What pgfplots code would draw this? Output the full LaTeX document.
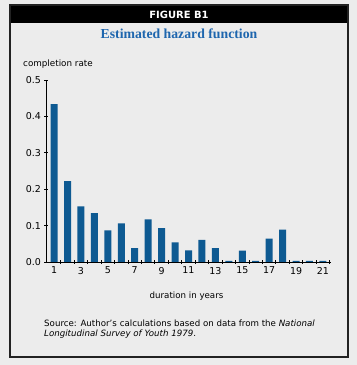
\documentclass[border=0pt]{standalone}
\usepackage{fontspec}
\setmainfont{DejaVu Sans}
\newfontfamily\serifb{Liberation Serif}
\usepackage{pgfplots}
\pgfplotsset{compat=1.18}
\definecolor{bg}{HTML}{ECECEC}
\definecolor{barblue}{HTML}{0E5A92}
\definecolor{titleblue}{HTML}{1E66AE}
\definecolor{framec}{HTML}{222222}
\begin{document}
\begin{tikzpicture}[x=1bp,y=1bp]
\useasboundingbox (0,0) rectangle (357,365);
\fill[bg] (0,0) rectangle (357,365);
\fill[black] (10,360) rectangle (348,342);
\draw[framec, line width=1.5bp] (10,360) rectangle (348,8);
\node[white, font=\bfseries\fontsize{10}{12}\selectfont] at (179,350.5) {FIGURE B1};
\node[titleblue, font=\serifb\bfseries\fontsize{13.8}{15}\selectfont] at (179,331) {Estimated hazard function};
\node[anchor=west, font=\fontsize{8.8}{10}\selectfont, inner sep=0pt] at (23,301) {completion rate};
\node[font=\fontsize{8.7}{11}\selectfont] at (186.5,69) {duration in years};
\node[anchor=west, font=\fontsize{8.7}{11}\selectfont, inner sep=0pt] at (44,42) {Source: Author's calculations based on data from the \textit{National}};
\node[anchor=west, font=\fontsize{8.7}{11}\selectfont, inner sep=0pt] at (44,30.5) {\textit{Longitudinal Survey of Youth 1979}.};
\begin{axis}[
  at={(46bp,103bp)}, anchor=south west,
  scale only axis, width=285bp, height=182bp,
  xmin=0.4, xmax=21.6, ymin=0, ymax=0.5,
  axis x line=bottom, axis y line=left,
  axis line style={black, line width=0.9pt, -},
  xtick={1,3,...,21},
  minor xtick={1.5,2.5,...,21.5},
  major x tick style={draw=none},
  minor x tick style={black, line width=0.8pt},
  minor tick length=4bp,
  ytick={0,0.1,0.2,0.3,0.4,0.5},
  y tick style={black, line width=0.8pt},
  major tick length=3bp,
  tick align=center,
  yticklabel style={/pgf/number format/.cd, fixed, fixed zerofill, precision=1},
  /pgf/number format/assume math mode=true,
  tick label style={font=\fontsize{9.5}{12}\selectfont},
  clip=false,
]
\addplot[ybar, fill=barblue, draw=none, bar width=7bp] coordinates {
 (1,0.434) (2,0.222) (3,0.153) (4,0.134) (5,0.087) (6,0.106) (7,0.038)
 (8,0.117) (9,0.093) (10,0.054) (11,0.032) (12,0.061) (13,0.038) (14,0.003)
 (15,0.031) (16,0.003) (17,0.064) (18,0.089) (19,0.003) (20,0.003) (21,0.003)
};
\end{axis}
\end{tikzpicture}
\end{document}
